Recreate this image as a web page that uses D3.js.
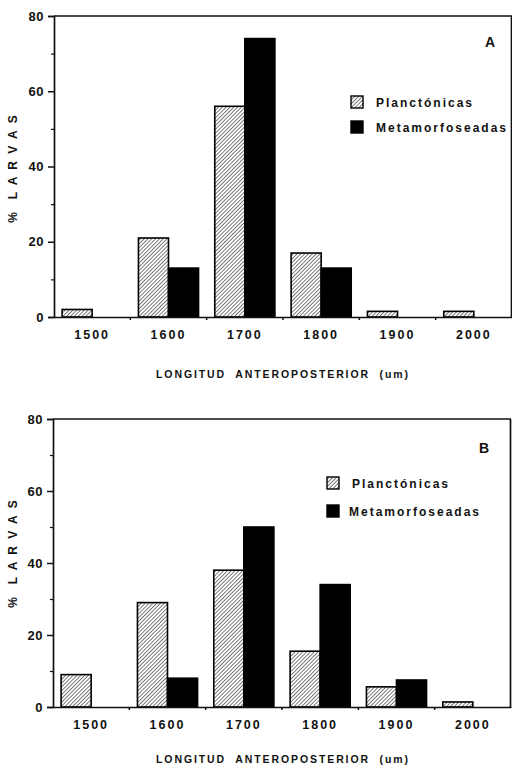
<!DOCTYPE html>
<html><head><meta charset="utf-8">
<script src="https://cdn.jsdelivr.net/npm/d3@7"></script>
<style>
html,body{margin:0;padding:0;background:#fff;}
svg{display:block;}
text{font-family:"Liberation Sans",Arial,sans-serif;font-weight:bold;fill:#111;}
</style></head>
<body>
<script>
const categories = ["1500","1600","1700","1800","1900","2000"];
const seriesNames = ["Planctónicas","Metamorfoseadas"];
const yTicks = [0,20,40,60,80];
const yMinorTicks = [10,30,50,70];
const panelA_planctonicas = [2,21,56,17,1.5,1.5];
const panelA_metamorfoseadas = [0,13,74,13,0,0];
const panelB_planctonicas = [9,29,38,15.5,5.6,1.4];
const panelB_metamorfoseadas = [0,8,50,34,7.5,0];
const xTitle = "LONGITUD  ANTEROPOSTERIOR  (um)";
const yTitle = "%  L A R V A S";

const W = 512, H = 766;
const svg = d3.select("body").append("svg").attr("width", W).attr("height", H);

const defs = svg.append("defs");
const hs = 2.7;
const pat = defs.append("pattern").attr("id","hatch").attr("patternUnits","userSpaceOnUse")
  .attr("width",hs).attr("height",hs).attr("patternTransform","rotate(45)");
pat.append("rect").attr("width",hs).attr("height",hs).attr("fill","#fff");
pat.append("line").attr("x1",0).attr("y1",0).attr("x2",0).attr("y2",hs)
  .attr("stroke","#111").attr("stroke-width",1.1);

function panel(cfg){
  const g = svg.append("g");
  const x = d3.scaleBand().domain(categories).range([cfg.left, cfg.right]).paddingInner(0).paddingOuter(0);
  const xs = d3.scaleBand().domain(seriesNames).range([0, x.bandwidth()]).paddingInner(0).paddingOuter(0.27);
  const y = d3.scaleLinear().domain([0,80]).range([cfg.bottom, cfg.top]);
  const data = categories.map((c,i)=>({c, vals:[cfg.s1[i], cfg.s2[i]]}));

  // frame: top and right
  g.append("line").attr("x1",cfg.left).attr("x2",cfg.right).attr("y1",y(80)).attr("y2",y(80))
    .attr("stroke","#111").attr("stroke-width",1.7);
  g.append("line").attr("x1",cfg.right-0.5).attr("x2",cfg.right-0.5).attr("y1",y(80)).attr("y2",y(0))
    .attr("stroke","#111").attr("stroke-width",1.7);

  // bars
  const grp = g.selectAll("g.grp").data(data).join("g").attr("class","grp")
    .attr("transform", d=>`translate(${x(d.c)},0)`);
  grp.selectAll("rect").data(d=>d.vals.map((v,j)=>({v, s:seriesNames[j]}))).join("rect")
    .attr("x", d=>xs(d.s)).attr("width", xs.bandwidth())
    .attr("y", d=>y(d.v)).attr("height", d=>y(0)-y(d.v))
    .attr("fill", d=>d.s===seriesNames[0] ? "url(#hatch)" : "#000")
    .attr("stroke","#000").attr("stroke-width",1.6);

  // y axis
  const ya = g.append("g").attr("transform",`translate(${cfg.left},0)`)
    .call(d3.axisLeft(y).tickValues(yTicks).tickSize(6).tickPadding(4).tickFormat(d3.format("d")));
  ya.select(".domain").attr("stroke","#111").attr("stroke-width",1.7);
  ya.selectAll(".tick line").attr("stroke","#111").attr("stroke-width",1.5);
  ya.selectAll("text").style("font-size","13px").style("letter-spacing","0.5px").style("font-family","'Liberation Sans',Arial,sans-serif").style("font-weight","bold").attr("fill","#111");
  const ym = g.append("g").attr("transform",`translate(${cfg.left},0)`)
    .call(d3.axisLeft(y).tickValues(yMinorTicks).tickSize(3).tickFormat(""));
  ym.select(".domain").remove();
  ym.selectAll(".tick line").attr("stroke","#111").attr("stroke-width",1.2);

  // x axis baseline + labels
  const xa = g.append("g").attr("transform",`translate(0,${y(0)})`)
    .call(d3.axisBottom(x).tickSize(0).tickPadding(13));
  xa.select(".domain").attr("stroke","#111").attr("stroke-width",1.7);
  xa.selectAll("text").style("font-size","12.5px").style("font-family","'Liberation Sans',Arial,sans-serif")
    .style("font-weight","bold").style("letter-spacing","2px").attr("fill","#111");
  // boundary ticks
  g.selectAll("line.bt").data(categories.slice(1)).join("line").attr("class","bt")
    .attr("x1", d=>x(d)).attr("x2", d=>x(d)).attr("y1", y(0)).attr("y2", y(0)+3)
    .attr("stroke","#111").attr("stroke-width",1.5);

  // x title
  g.append("text").attr("x", cfg.xTitleX).attr("y", cfg.xTitleY).attr("text-anchor","middle")
    .style("font-size","10.5px").style("letter-spacing","1.9px").style("white-space","pre").text(xTitle);
  // y title
  g.append("text").attr("transform",`translate(17,${cfg.yTitleY}) rotate(-90)`).attr("text-anchor","middle")
    .style("font-size","12px").style("letter-spacing","2px").style("white-space","pre").text(yTitle);

  // panel letter
  g.append("text").attr("x", cfg.letterX).attr("y", cfg.letterY).attr("text-anchor","middle")
    .style("font-size","14px").text(cfg.letter);

  // legend
  const lg = g.append("g");
  seriesNames.forEach((s,i)=>{
    const ly = cfg.legY + i*cfg.legGap;
    lg.append("rect").attr("x", cfg.legX).attr("y", ly).attr("width",12).attr("height",12)
      .attr("fill", i===0 ? "url(#hatch)" : "#000").attr("stroke","#000").attr("stroke-width",1.4);
    lg.append("text").attr("x", cfg.legX + cfg.legTextDx - (i===1?cfg.legShift:0)).attr("y", ly+10.5)
      .style("font-size","12px").style("letter-spacing","2px").text(s);
  });
}

panel({left:54, right:512, top:16, bottom:317,
  s1:panelA_planctonicas, s2:panelA_metamorfoseadas,
  xTitleX:283, xTitleY:378, yTitleY:168, letter:"A", letterX:490, letterY:47,
  legX:351, legY:96, legGap:25, legTextDx:25, legShift:0});

panel({left:53, right:511, top:419, bottom:707,
  s1:panelB_planctonicas, s2:panelB_metamorfoseadas,
  xTitleX:283, xTitleY:763, yTitleY:553, letter:"B", letterX:484, letterY:453,
  legX:327, legY:477, legGap:28, legTextDx:25, legShift:3});
</script>
</body></html>
